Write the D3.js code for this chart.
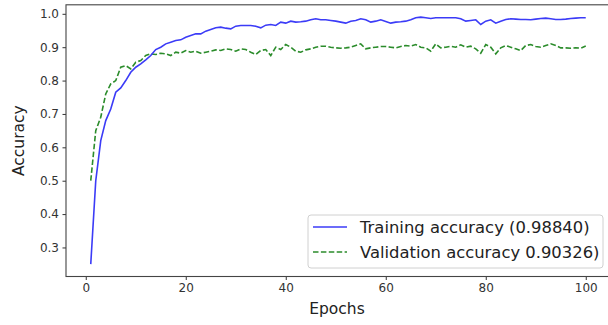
<!DOCTYPE html>
<html>
<head>
<meta charset="utf-8">
<script src="https://cdn.jsdelivr.net/npm/d3@7"></script>
<style>
  body { margin: 0; background: #fff; }
  svg { display: block; font-family: "DejaVu Sans", sans-serif; }
</style>
</head>
<body>
<svg id="chart" width="608" height="325"></svg>
<script>
// Accuracy per epoch
const trainAcc = [
  0.250, 0.500, 0.620, 0.680, 0.715, 0.765, 0.778, 0.800, 0.825, 0.840,
  0.850, 0.862, 0.875, 0.893, 0.900, 0.910, 0.915, 0.920, 0.922, 0.930,
  0.935, 0.940, 0.940, 0.948, 0.953, 0.958, 0.960, 0.957, 0.955, 0.963,
  0.965, 0.965, 0.965, 0.963, 0.958, 0.966, 0.968, 0.965, 0.975, 0.972,
  0.978, 0.975, 0.976, 0.978, 0.982, 0.985, 0.982, 0.982, 0.980, 0.978,
  0.975, 0.972, 0.978, 0.980, 0.985, 0.982, 0.975, 0.978, 0.982, 0.977,
  0.972, 0.975, 0.976, 0.978, 0.982, 0.988, 0.990, 0.988, 0.986, 0.988,
  0.988, 0.988, 0.988, 0.988, 0.985, 0.978, 0.980, 0.982, 0.968, 0.978,
  0.982, 0.972, 0.978, 0.983, 0.985, 0.984, 0.983, 0.983, 0.982, 0.984,
  0.986, 0.987, 0.985, 0.983, 0.983, 0.984, 0.986, 0.987, 0.988, 0.9884
];
const valAcc = [
  0.500, 0.650, 0.690, 0.760, 0.790, 0.800, 0.840, 0.845, 0.835, 0.855,
  0.860, 0.875, 0.880, 0.878, 0.882, 0.880, 0.875, 0.885, 0.882, 0.890,
  0.885, 0.888, 0.882, 0.885, 0.888, 0.892, 0.890, 0.895, 0.893, 0.888,
  0.895, 0.893, 0.885, 0.878, 0.890, 0.893, 0.875, 0.900, 0.893, 0.908,
  0.900, 0.888, 0.885, 0.892, 0.895, 0.900, 0.903, 0.903, 0.900, 0.898,
  0.897, 0.898, 0.900, 0.905, 0.910, 0.895, 0.898, 0.900, 0.902, 0.902,
  0.900, 0.898, 0.902, 0.905, 0.903, 0.908, 0.900, 0.898, 0.888, 0.910,
  0.898, 0.900, 0.903, 0.900, 0.907, 0.900, 0.903, 0.895, 0.882, 0.908,
  0.900, 0.880, 0.898, 0.905, 0.900, 0.895, 0.890, 0.905, 0.908, 0.902,
  0.900, 0.905, 0.910, 0.905, 0.898, 0.898, 0.897, 0.898, 0.897, 0.90326
];
const epochs = trainAcc.map((d, i) => i + 1);
const xTicks = [0, 20, 40, 60, 80, 100];
const yTicks = [0.3, 0.4, 0.5, 0.6, 0.7, 0.8, 0.9, 1.0];
const legendLabels = ["Training accuracy (0.98840)", "Validation accuracy 0.90326)"];

const svg = d3.select("#chart");

// plot box (right spine falls just past the picture edge)
const plotLeft = 66, plotRight = 610.5, plotTop = 4.8, plotBottom = 276.5;

// matplotlib style 5% padding around the data
function padded(ext) {
  const m = (ext[1] - ext[0]) * 0.05;
  return [ext[0] - m, ext[1] + m];
}
const x = d3.scaleLinear().domain(padded(d3.extent(epochs))).range([plotLeft, plotRight]);
const y = d3.scaleLinear()
  .domain(padded(d3.extent(trainAcc.concat(valAcc))))
  .range([plotBottom, plotTop]);

// Lines
const line = d3.line().x((d, i) => x(epochs[i])).y(d => y(d));

svg.append("path")
  .datum(valAcc)
  .attr("fill", "none")
  .attr("stroke", "#2b8c2b")
  .attr("stroke-width", 1.6)
  .attr("stroke-dasharray", "5.5,2.4")
  .attr("d", line);

svg.append("path")
  .datum(trainAcc)
  .attr("fill", "none")
  .attr("stroke", "#3b3bf7")
  .attr("stroke-width", 1.6)
  .attr("d", line);

// Axes
const xAxis = svg.append("g")
  .attr("transform", `translate(0,${plotBottom})`)
  .call(d3.axisBottom(x).tickValues(xTicks).tickSize(3.5).tickPadding(3.5).tickFormat(d3.format("d")));
const yAxis = svg.append("g")
  .attr("transform", `translate(${plotLeft},0)`)
  .call(d3.axisLeft(y).tickValues(yTicks).tickSize(3.5).tickPadding(3.5).tickFormat(d3.format(".1f")));

[xAxis, yAxis].forEach(g => {
  g.select(".domain").remove();
  g.selectAll(".tick line").attr("stroke", "#333");
  g.selectAll(".tick text")
    .attr("fill", "#333")
    .style("font-family", "DejaVu Sans")
    .style("font-size", "12px");
});

// Spines
svg.append("rect")
  .attr("x", plotLeft)
  .attr("y", plotTop)
  .attr("width", plotRight - plotLeft)
  .attr("height", plotBottom - plotTop)
  .attr("fill", "none")
  .attr("stroke", "#444")
  .attr("stroke-width", 1.1);

// Axis labels
svg.append("text")
  .attr("x", (plotLeft + 608) / 2)
  .attr("y", 314)
  .attr("text-anchor", "middle")
  .attr("fill", "#222")
  .style("font-size", "15.5px")
  .text("Epochs");

svg.append("text")
  .attr("transform", `translate(24,${(plotTop + plotBottom) / 2}) rotate(-90)`)
  .attr("text-anchor", "middle")
  .attr("fill", "#222")
  .style("font-size", "15.5px")
  .text("Accuracy");

// Legend
const legend = svg.append("g").attr("transform", "translate(308,215)");
legend.append("rect")
  .attr("width", 295)
  .attr("height", 53)
  .attr("rx", 3)
  .attr("fill", "#fff")
  .attr("fill-opacity", 0.85)
  .attr("stroke", "#d0d0d0");

const styles = [
  { stroke: "#3b3bf7", dash: null },
  { stroke: "#2b8c2b", dash: "5.5,2.4" }
];
legendLabels.forEach((label, i) => {
  const cy = 12 + i * 25;
  legend.append("line")
    .attr("x1", 5).attr("x2", 39)
    .attr("y1", cy).attr("y2", cy)
    .attr("stroke", styles[i].stroke)
    .attr("stroke-width", 1.6)
    .attr("stroke-dasharray", styles[i].dash);
  legend.append("text")
    .attr("x", 52)
    .attr("y", cy + 6)
    .attr("fill", "#222")
    .style("font-size", "16.4px")
    .text(label);
});
</script>
</body>
</html>
